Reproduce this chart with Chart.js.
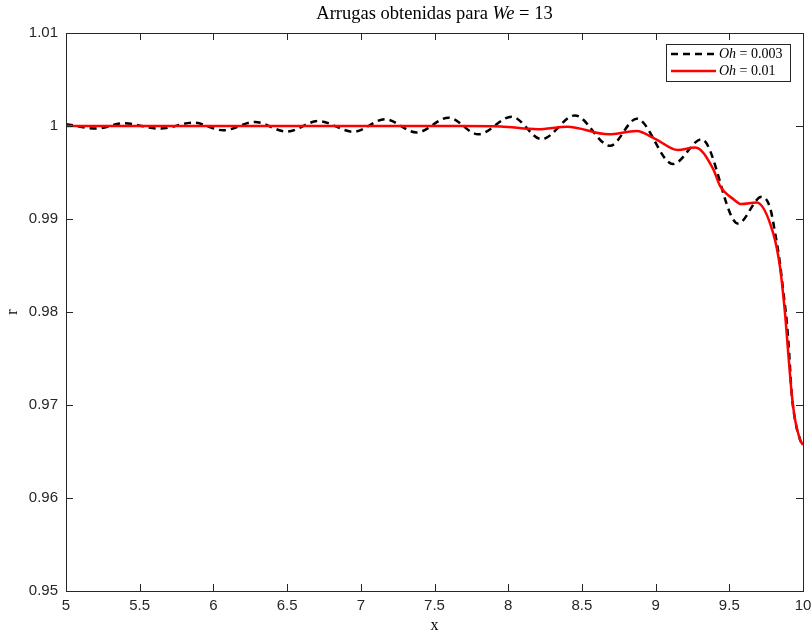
<!DOCTYPE html>
<html>
<head>
<meta charset="utf-8">
<title>Arrugas obtenidas para We = 13</title>
<script src="https://cdn.jsdelivr.net/npm/chart.js@4.4.0/dist/chart.umd.min.js"></script>
<style>
  html, body { margin: 0; padding: 0; background: #fff; }
  #wrap { width: 811px; height: 634px; }
</style>
</head>
<body>
<div id="wrap"><canvas id="arrugas" width="811" height="634"></canvas></div>
<script>
// Perfil r(x) para dos viscosidades (Oh), We = 13
const xOh003 = [5.000, 5.208, 5.389, 5.638, 5.864, 6.067, 6.282, 6.497, 6.712, 6.950,
                7.164, 7.379, 7.594, 7.797, 8.024, 8.227, 8.453, 8.691, 8.872, 9.118,
                9.313, 9.559, 9.720, 9.776, 9.812, 9.841, 9.868, 9.891, 9.906, 9.923,
                9.946, 9.980, 10.000];
const rOh003 = [1.00020, 0.99972, 1.00029, 0.99972, 1.00036, 0.99954, 1.00043, 0.99940, 1.00053, 0.99938,
                1.00072, 0.99930, 1.00090, 0.99911, 1.00100, 0.99858, 1.00114, 0.99787, 1.00079, 0.99591,
                0.99858, 0.98951, 0.99238, 0.99124, 0.98840, 0.98554, 0.98198, 0.97877, 0.97560, 0.97128,
                0.96843, 0.96628, 0.96570];

const xOh01 = [5.000, 7.700, 7.950, 8.200, 8.400, 8.680, 8.870, 9.000, 9.150, 9.270,
               9.390, 9.437, 9.530, 9.580, 9.686, 9.799, 9.844, 9.878, 9.900, 9.923,
               9.946, 9.980, 10.000];
const rOh01 = [1.00000, 1.00000, 0.99995, 0.99965, 0.99992, 0.99910, 0.99945, 0.99860, 0.99742, 0.99770,
               0.99540, 0.99356, 0.99210, 0.99160, 0.99178, 0.98840, 0.98482, 0.97984, 0.97556, 0.97128,
               0.96843, 0.96628, 0.96570];

const seriesLabels = ['Oh = 0.003', 'Oh = 0.01'];
const xTickValues = [5, 5.5, 6, 6.5, 7, 7.5, 8, 8.5, 9, 9.5, 10];
const yTickValues = [0.95, 0.96, 0.97, 0.98, 0.99, 1, 1.01];

const AXIS = '#262626';
const SANS = "'Liberation Sans', Arial, sans-serif";
const SERIF = "'Liberation Serif', 'DejaVu Serif', serif";

const toPoints = (xs, ys) => xs.map((x, i) => ({ x: x, y: ys[i] }));

// texto con partes en cursiva (variables tipo LaTeX)
function drawRich(ctx, parts, x, y, align, size) {
  const fontOf = p => (p.italic ? 'italic ' : '') + size + 'px ' + SERIF;
  let total = 0;
  parts.forEach(p => { ctx.font = fontOf(p); total += ctx.measureText(p.text).width; });
  let cx = align === 'center' ? x - total / 2 : x;
  ctx.textAlign = 'left';
  ctx.textBaseline = 'middle';
  parts.forEach(p => {
    ctx.font = fontOf(p);
    ctx.fillText(p.text, cx, y);
    cx += ctx.measureText(p.text).width;
  });
}

function labelParts(label) {
  const [v, val] = label.split(' = ');
  return [{ text: v, italic: true }, { text: ' = ' + val, italic: false }];
}

// marco, marcas hacia dentro, títulos y leyenda al estilo MATLAB
const matlabFrame = {
  id: 'matlabFrame',
  afterDraw(chart) {
    const { ctx, chartArea: { left, right, top, bottom }, scales: { x, y } } = chart;
    const tl = 7;
    ctx.save();
    ctx.strokeStyle = AXIS;
    ctx.lineWidth = 1;
    ctx.beginPath();
    xTickValues.forEach(v => {
      const px = Math.round(x.getPixelForValue(v)) + 0.5;
      ctx.moveTo(px, bottom); ctx.lineTo(px, bottom - tl);
      ctx.moveTo(px, top); ctx.lineTo(px, top + tl);
    });
    yTickValues.forEach(v => {
      const py = Math.round(y.getPixelForValue(v)) + 0.5;
      ctx.moveTo(left, py); ctx.lineTo(left + tl, py);
      ctx.moveTo(right, py); ctx.lineTo(right - tl, py);
    });
    ctx.stroke();
    ctx.strokeRect(Math.round(left) + 0.5, Math.round(top) + 0.5,
                   Math.round(right - left), Math.round(bottom - top));

    // títulos
    ctx.fillStyle = '#000';
    drawRich(ctx, [{ text: 'Arrugas obtenidas para ', italic: false },
                   { text: 'We', italic: true },
                   { text: ' = 13', italic: false }], (left + right) / 2, 14, 'center', 18.5);
    drawRich(ctx, [{ text: 'x', italic: false }], (left + right) / 2, 626, 'center', 16);
    ctx.save();
    ctx.translate(13, (top + bottom) / 2);
    ctx.rotate(-Math.PI / 2);
    drawRich(ctx, [{ text: 'r', italic: false }], 0, 0, 'center', 16);
    ctx.restore();

    // leyenda
    const bx = 666.5, by = 44.5, bw = 124, bh = 37;
    ctx.fillStyle = '#fff';
    ctx.fillRect(bx, by, bw, bh);
    ctx.strokeStyle = AXIS;
    ctx.lineWidth = 1;
    ctx.strokeRect(bx, by, bw, bh);
    const rows = [54, 71];
    chart.data.datasets.forEach((ds, i) => {
      const ry = rows[i];
      ctx.save();
      ctx.strokeStyle = ds.borderColor;
      ctx.lineWidth = ds.borderWidth;
      ctx.setLineDash(ds.borderDash || []);
      ctx.beginPath();
      ctx.moveTo(671, ry); ctx.lineTo(716, ry);
      ctx.stroke();
      ctx.restore();
      ctx.fillStyle = '#000';
      drawRich(ctx, labelParts(ds.label), 719, ry, 'left', 14);
    });
    ctx.restore();
  }
};

new Chart(document.getElementById('arrugas'), {
  type: 'line',
  data: {
    datasets: [
      {
        label: seriesLabels[0],
        data: toPoints(xOh003, rOh003),
        borderColor: '#000000',
        borderWidth: 2.5,
        borderDash: [7, 5],
        pointRadius: 0,
        cubicInterpolationMode: 'monotone',
        order: 1
      },
      {
        label: seriesLabels[1],
        data: toPoints(xOh01, rOh01),
        borderColor: '#ff0000',
        borderWidth: 2.5,
        pointRadius: 0,
        cubicInterpolationMode: 'monotone',
        order: 0
      }
    ]
  },
  options: {
    responsive: false,
    animation: false,
    devicePixelRatio: 1,
    layout: { padding: { left: 0, right: 8, top: 33, bottom: 0 } },
    plugins: {
      legend: { display: false },
      title: { display: false },
      tooltip: { enabled: false }
    },
    scales: {
      x: {
        type: 'linear',
        min: 5,
        max: 10,
        grid: { display: false, drawTicks: false },
        border: { display: false },
        afterBuildTicks: s => { s.ticks = xTickValues.map(v => ({ value: v })); },
        afterFit: s => { s.height = 43; s.paddingLeft = 0; s.paddingRight = 0; },
        ticks: {
          color: AXIS,
          padding: 6,
          maxRotation: 0,
          font: { family: SANS, size: 15 },
          callback: v => String(v)
        }
      },
      y: {
        type: 'linear',
        min: 0.95,
        max: 1.01,
        grid: { display: false, drawTicks: false },
        border: { display: false },
        afterBuildTicks: s => { s.ticks = yTickValues.map(v => ({ value: v })); },
        afterFit: s => { s.width = 66; s.paddingTop = 0; s.paddingBottom = 0; },
        ticks: {
          color: AXIS,
          padding: 8,
          font: { family: SANS, size: 15 },
          callback: v => String(Number(v.toFixed(2)))
        }
      }
    }
  },
  plugins: [matlabFrame]
});
</script>
</body>
</html>
